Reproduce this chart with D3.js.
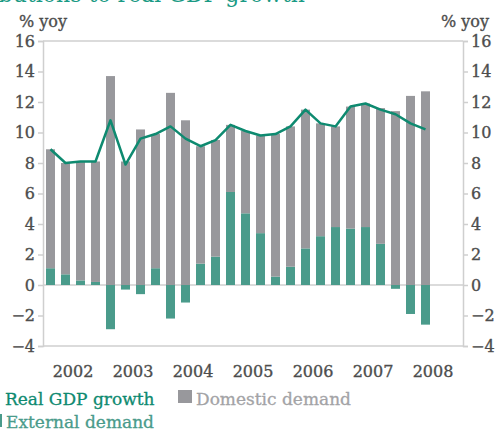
<!DOCTYPE html>
<html>
<head>
<meta charset="utf-8">
<script src="https://cdn.jsdelivr.net/npm/d3@7"></script>
<style>
  body { margin: 0; background: #fff; }
  svg text { font-family: "DejaVu Serif", serif; }
</style>
</head>
<body>
<div id="chart"></div>
<script>
var w = 496;
var h = 432;

// quarters 2002Q1 .. 2008Q4, data through 2008Q2
var years = ["2002", "2003", "2004", "2005", "2006", "2007", "2008"];
var quarters = [];
years.forEach(function(y) { for (var q = 1; q <= 4; q++) quarters.push(y + "Q" + q); });

var gdpGrowth = [8.9, 8.0, 8.1, 8.1, 10.8, 7.9, 9.6, 9.9, 10.4, 9.6, 9.1, 9.5, 10.5,
                 10.1, 9.8, 9.9, 10.4, 11.5, 10.6, 10.4, 11.7, 11.9, 11.5, 11.2, 10.6, 10.2];
var domestic = [7.8, 7.3, 7.8, 7.9, 13.7, 8.1, 10.2, 8.8, 12.6, 10.8, 7.7, 7.65, 4.4,
                5.4, 6.4, 9.35, 9.2, 9.1, 7.4, 6.6, 8.0, 8.1, 8.9, 11.4, 12.4, 12.7];
var external = [1.1, 0.7, 0.3, 0.2, -2.9, -0.3, -0.6, 1.1, -2.2, -1.15, 1.4, 1.86, 6.1,
                4.7, 3.4, 0.55, 1.2, 2.4, 3.2, 3.8, 3.7, 3.8, 2.7, -0.25, -1.9, -2.6];
var yTicks = [-4, -2, 0, 2, 4, 6, 8, 10, 12, 14, 16];

var teal = "#4a9b8b", lineCol = "#0e8a70", grey = "#98989c", txt = "#4d4d4d";

var svg = d3.select("#chart").append("svg")
  .attr("width", w).attr("height", h);

var left = 43, right = 463;

var x = d3.scaleBand()
  .domain(quarters)
  .range([left, right])
  .paddingInner(0.4)
  .paddingOuter(0.2);

var xYear = d3.scaleBand()
  .domain(years)
  .range([left, right]);

var y = d3.scaleLinear()
  .domain([-4, 16])
  .range([346, 41]);

// title (cut off at the top in the original)
svg.append("text")
  .attr("x", 305).attr("y", 2)
  .attr("text-anchor", "end")
  .style("font-size", "22px")
  .style("fill", "#1a9a84")
  .text("Contributions to real GDP growth");

// frame lines
[16, 0, -4].forEach(function(v) {
  svg.append("line")
    .attr("x1", left).attr("x2", right)
    .attr("y1", y(v)).attr("y2", y(v))
    .style("stroke", "#cfcfcf").style("stroke-width", 1.5);
});

// axes
var yl = svg.append("g").attr("transform", "translate(" + left + ",0)")
  .call(d3.axisLeft(y).tickValues(yTicks).tickSize(5).tickPadding(3));
var yr = svg.append("g").attr("transform", "translate(" + right + ",0)")
  .call(d3.axisRight(y).tickValues(yTicks).tickSize(5).tickPadding(3));
[yl, yr].forEach(function(g) {
  g.select(".domain").style("stroke", "#cfcfcf").style("stroke-width", 1.5);
  g.selectAll(".tick line").style("stroke", "#cfcfcf").style("stroke-width", 1.5);
  g.selectAll("text").style("font-size", "16px").style("fill", txt)
    .style("stroke", txt).style("stroke-width", 0.35)
    .style("font-family", "DejaVu Serif, serif");
});

svg.append("text").attr("x", 19).attr("y", 27)
  .style("font-size", "16px").style("fill", txt)
  .style("stroke", txt).style("stroke-width", 0.35).text("% yoy");
svg.append("text").attr("x", 489).attr("y", 27).attr("text-anchor", "end")
  .style("font-size", "16px").style("fill", txt)
  .style("stroke", txt).style("stroke-width", 0.35).text("% yoy");

// year labels
svg.selectAll("text.year")
  .data(years).enter().append("text")
  .attr("class", "year")
  .attr("x", function(d) { return xYear(d) + xYear.bandwidth() / 2; })
  .attr("y", 377)
  .attr("text-anchor", "middle")
  .style("font-size", "16px").style("fill", txt)
  .style("stroke", txt).style("stroke-width", 0.35)
  .text(function(d) { return d; });

// stacked bars
var rows = domestic.map(function(d, i) {
  return { q: quarters[i], external: external[i], domestic: d };
});
var series = d3.stack()
  .keys(["external", "domestic"])
  .offset(d3.stackOffsetDiverging)(rows);
var colors = { external: teal, domestic: grey };

series.forEach(function(s) {
  svg.selectAll("rect." + s.key)
    .data(s).enter().append("rect")
    .attr("class", s.key)
    .attr("x", function(d) { return x(d.data.q); })
    .attr("width", x.bandwidth())
    .attr("y", function(d) { return y(Math.max(d[0], d[1])); })
    .attr("height", function(d) { return Math.abs(y(d[0]) - y(d[1])); })
    .attr("fill", colors[s.key]);
});

// GDP line
var line = d3.line()
  .x(function(d, i) { return x(quarters[i]) + x.bandwidth() / 2; })
  .y(function(d) { return y(d); });
svg.append("path")
  .datum(gdpGrowth)
  .attr("d", line)
  .attr("fill", "none")
  .attr("stroke", lineCol)
  .attr("stroke-width", 2.5)
  .attr("stroke-linejoin", "round");

// legend
svg.append("line").attr("x1", -25).attr("x2", -5).attr("y1", 399).attr("y2", 399)
  .attr("stroke", lineCol).attr("stroke-width", 2.5);
svg.append("text").attr("x", 5).attr("y", 405)
  .style("font-size", "17px").style("fill", lineCol)
  .style("stroke", lineCol).style("stroke-width", 0.3).text("Real GDP growth");
svg.append("rect").attr("x", 178).attr("y", 390).attr("width", 14).attr("height", 13)
  .attr("fill", grey);
svg.append("text").attr("x", 196).attr("y", 405)
  .style("font-size", "17px").style("fill", "#a3a3a6")
  .style("stroke", "#a3a3a6").style("stroke-width", 0.3).text("Domestic demand");
svg.append("rect").attr("x", -12).attr("y", 414).attr("width", 14).attr("height", 13)
  .attr("fill", teal);
svg.append("text").attr("x", 6).attr("y", 428)
  .style("font-size", "17px").style("fill", teal)
  .style("stroke", teal).style("stroke-width", 0.3).text("External demand");
</script>
</body>
</html>
